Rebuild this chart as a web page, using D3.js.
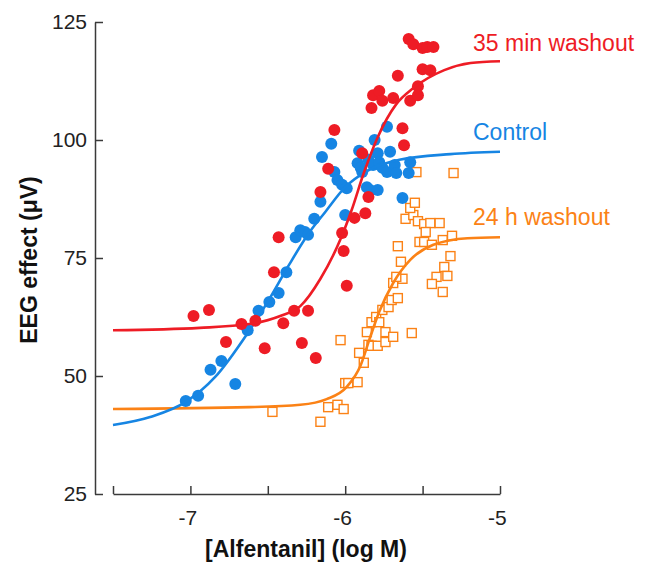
<!DOCTYPE html>
<html>
<head>
<meta charset="utf-8">
<script src="https://cdn.jsdelivr.net/npm/d3@7"></script>
<style>
  html, body { margin: 0; padding: 0; background: #fff; }
  svg { display: block; font-family: "Liberation Sans", Arial, Helvetica, sans-serif; }
</style>
</head>
<body>
<svg id="chart" width="649" height="565"></svg>
<script>
// tick values
const xTicks = [-7.5, -7, -6.5, -6, -5.5, -5];
const xTickLabels = [-7, -6, -5];
const yTicks = [25, 50, 75, 100, 125];

// series labels
const seriesNames = ['35 min washout', 'Control', '24 h washout'];

// observed points [log M, EEG uV]
const controlPoints = [
  [-7.03, 44.7], [-6.95, 45.8], [-6.87, 51.3], [-6.80, 53.2], [-6.71, 48.3],
  [-6.63, 59.7], [-6.56, 63.8], [-6.49, 65.7], [-6.43, 67.6], [-6.38, 72.0],
  [-6.32, 79.4], [-6.29, 80.9], [-6.26, 80.5], [-6.24, 79.9], [-6.20, 83.3],
  [-6.16, 86.9], [-6.15, 96.4], [-6.09, 99.2], [-6.07, 93.2], [-6.05, 91.5],
  [-6.02, 90.5], [-5.99, 89.8], [-6.00, 84.1], [-5.92, 95.1], [-5.91, 97.7],
  [-5.90, 94.1], [-5.89, 93.2], [-5.86, 90.0], [-5.85, 95.8], [-5.84, 89.4],
  [-5.82, 94.7], [-5.81, 100.0], [-5.79, 97.2], [-5.79, 89.4], [-5.78, 95.3],
  [-5.76, 94.1], [-5.73, 102.8], [-5.73, 93.2], [-5.71, 97.5], [-5.68, 94.7],
  [-5.67, 93.0], [-5.63, 87.7], [-5.59, 93.0], [-5.58, 95.3]
];

const washout35Points = [
  [-6.98, 62.7], [-6.88, 64.0], [-6.77, 57.2], [-6.67, 61.0], [-6.58, 61.7],
  [-6.52, 55.9], [-6.46, 72.0], [-6.43, 79.4], [-6.40, 61.2], [-6.33, 63.8],
  [-6.28, 57.0], [-6.24, 63.8], [-6.19, 53.8], [-6.16, 89.0], [-6.11, 93.9],
  [-6.07, 102.1], [-6.02, 80.3], [-6.01, 76.5], [-5.99, 69.1], [-5.94, 83.5],
  [-5.89, 97.2], [-5.87, 84.5], [-5.85, 87.9], [-5.83, 106.8], [-5.82, 109.5],
  [-5.78, 110.4], [-5.76, 108.3], [-5.69, 108.9], [-5.66, 113.6], [-5.63, 102.5],
  [-5.62, 98.9], [-5.58, 108.3], [-5.53, 111.4], [-5.53, 109.5], [-5.59, 121.4],
  [-5.56, 120.3], [-5.50, 119.5], [-5.47, 119.7], [-5.43, 119.7], [-5.50, 115.0],
  [-5.45, 114.8]
];

const washout24Points = [
  [-6.47, 42.4], [-6.16, 40.3], [-6.11, 43.4], [-6.05, 43.9], [-6.01, 43.0],
  [-6.03, 57.6], [-6.00, 48.5], [-5.98, 48.5], [-5.92, 48.7], [-5.91, 54.9],
  [-5.88, 52.8], [-5.85, 56.6], [-5.83, 56.4], [-5.79, 56.4], [-5.86, 59.3],
  [-5.83, 61.4], [-5.80, 62.5], [-5.78, 61.4], [-5.74, 59.3], [-5.74, 57.2],
  [-5.69, 58.3], [-5.76, 64.0], [-5.72, 64.6], [-5.70, 66.1], [-5.66, 66.5],
  [-5.69, 69.7], [-5.63, 70.6], [-5.67, 71.0], [-5.64, 74.2], [-5.66, 77.5],
  [-5.57, 59.1], [-5.52, 78.4], [-5.49, 78.4], [-5.44, 77.8], [-5.37, 78.8],
  [-5.31, 79.7], [-5.32, 75.4], [-5.36, 73.1], [-5.34, 71.2], [-5.41, 71.0],
  [-5.44, 69.5], [-5.37, 67.8], [-5.61, 83.3], [-5.56, 84.1], [-5.53, 82.8],
  [-5.49, 82.2], [-5.45, 82.4], [-5.39, 82.4], [-5.48, 80.5], [-5.58, 85.6],
  [-5.55, 86.7], [-5.54, 93.2], [-5.30, 93.0]
];

// fitted curves
const washout35Fit = [
  [-7.5, 59.7], [-6.94, 60.2], [-6.62, 61.0], [-6.42, 62.7], [-6.29, 64.8],
  [-6.16, 70.6], [-6.03, 79.0], [-5.96, 85.0], [-5.88, 93.0], [-5.79, 100.6],
  [-5.67, 107.6], [-5.56, 111.0], [-5.36, 114.8], [-5.19, 116.3], [-5.0, 116.7]
];
const controlFit = [
  [-7.5, 39.6], [-7.26, 41.3], [-7.03, 44.5], [-6.84, 49.8], [-6.63, 59.1],
  [-6.49, 66.3], [-6.36, 73.7], [-6.23, 80.5], [-6.13, 84.7], [-6.00, 90.0],
  [-5.86, 93.4], [-5.65, 95.8], [-5.32, 97.0], [-5.0, 97.5]
];
const washout24Fit = [
  [-7.5, 43.0], [-6.62, 43.4], [-6.29, 43.9], [-6.12, 45.1], [-5.99, 47.7],
  [-5.90, 52.3], [-5.84, 58.1], [-5.78, 63.6], [-5.69, 69.7], [-5.58, 74.6],
  [-5.43, 77.8], [-5.21, 79.2], [-5.0, 79.4]
];

const RED = '#ee1c25';
const BLUE = '#1685e3';
const ORANGE = '#fb8216';
const AXIS = '#3a3a3a';

const svg = d3.select('#chart');

const x = d3.scaleLinear().domain([-7.5, -5]).range([113, 500]);
const y = d3.scaleLinear().domain([25, 125]).range([494, 22]);

// y axis
const yAxis = svg.append('g')
  .attr('transform', `translate(95,0)`)
  .call(d3.axisLeft(y).tickValues(yTicks).tickSizeInner(-8).tickSizeOuter(0).tickPadding(8));
yAxis.selectAll('text').attr('font-size', 21).attr('fill', '#222')
  .attr('font-family', '"Liberation Sans", Arial, sans-serif');

// x axis
const xAxis = svg.append('g')
  .attr('transform', `translate(0,494)`)
  .call(d3.axisBottom(x).tickValues(xTicks).tickSizeInner(-8).tickSizeOuter(0).tickPadding(16)
    .tickFormat(d => xTickLabels.includes(d) ? String(d) : ''));
xAxis.selectAll('text').attr('font-size', 21).attr('fill', '#222').attr('dx', '-0.15em')
  .attr('font-family', '"Liberation Sans", Arial, sans-serif');

svg.selectAll('.domain, .tick line').attr('stroke', AXIS).attr('stroke-width', 1.5);

// axis titles
svg.append('text')
  .attr('x', 306).attr('y', 557)
  .attr('text-anchor', 'middle')
  .attr('font-size', 23).attr('font-weight', 'bold').attr('fill', '#111')
  .text('[Alfentanil] (log M)');

svg.append('text')
  .attr('transform', 'translate(37,260) rotate(-90)')
  .attr('text-anchor', 'middle')
  .attr('font-size', 23).attr('font-weight', 'bold').attr('fill', '#111')
  .text('EEG effect (\u03bcV)');

const line = d3.line()
  .x(d => x(d[0]))
  .y(d => y(d[1]))
  .curve(d3.curveMonotoneX);

// 24 h washout: open squares
const sq = 9;
svg.append('g')
  .selectAll('rect')
  .data(washout24Points)
  .enter().append('rect')
  .attr('x', d => x(d[0]) - sq / 2)
  .attr('y', d => y(d[1]) - sq / 2)
  .attr('width', sq)
  .attr('height', sq)
  .attr('fill', '#fff')
  .attr('stroke', ORANGE)
  .attr('stroke-width', 1.4);

svg.append('path')
  .datum(washout24Fit)
  .attr('d', line)
  .attr('fill', 'none')
  .attr('stroke', ORANGE)
  .attr('stroke-width', 2.6);

// control: blue dots
svg.append('g')
  .selectAll('circle')
  .data(controlPoints)
  .enter().append('circle')
  .attr('cx', d => x(d[0]))
  .attr('cy', d => y(d[1]))
  .attr('r', 6)
  .attr('fill', BLUE);

svg.append('path')
  .datum(controlFit)
  .attr('d', line)
  .attr('fill', 'none')
  .attr('stroke', BLUE)
  .attr('stroke-width', 2.6);

// 35 min washout: red dots
svg.append('g')
  .selectAll('circle')
  .data(washout35Points)
  .enter().append('circle')
  .attr('cx', d => x(d[0]))
  .attr('cy', d => y(d[1]))
  .attr('r', 6)
  .attr('fill', RED);

svg.append('path')
  .datum(washout35Fit)
  .attr('d', line)
  .attr('fill', 'none')
  .attr('stroke', RED)
  .attr('stroke-width', 2.6);

// series labels
const labelY = [51, 140, 225];
const labelColor = [RED, BLUE, ORANGE];
svg.append('g')
  .selectAll('text')
  .data(seriesNames)
  .enter().append('text')
  .attr('x', 473)
  .attr('y', (d, i) => labelY[i])
  .attr('font-size', 23)
  .attr('fill', (d, i) => labelColor[i])
  .text(d => d);
</script>
</body>
</html>
